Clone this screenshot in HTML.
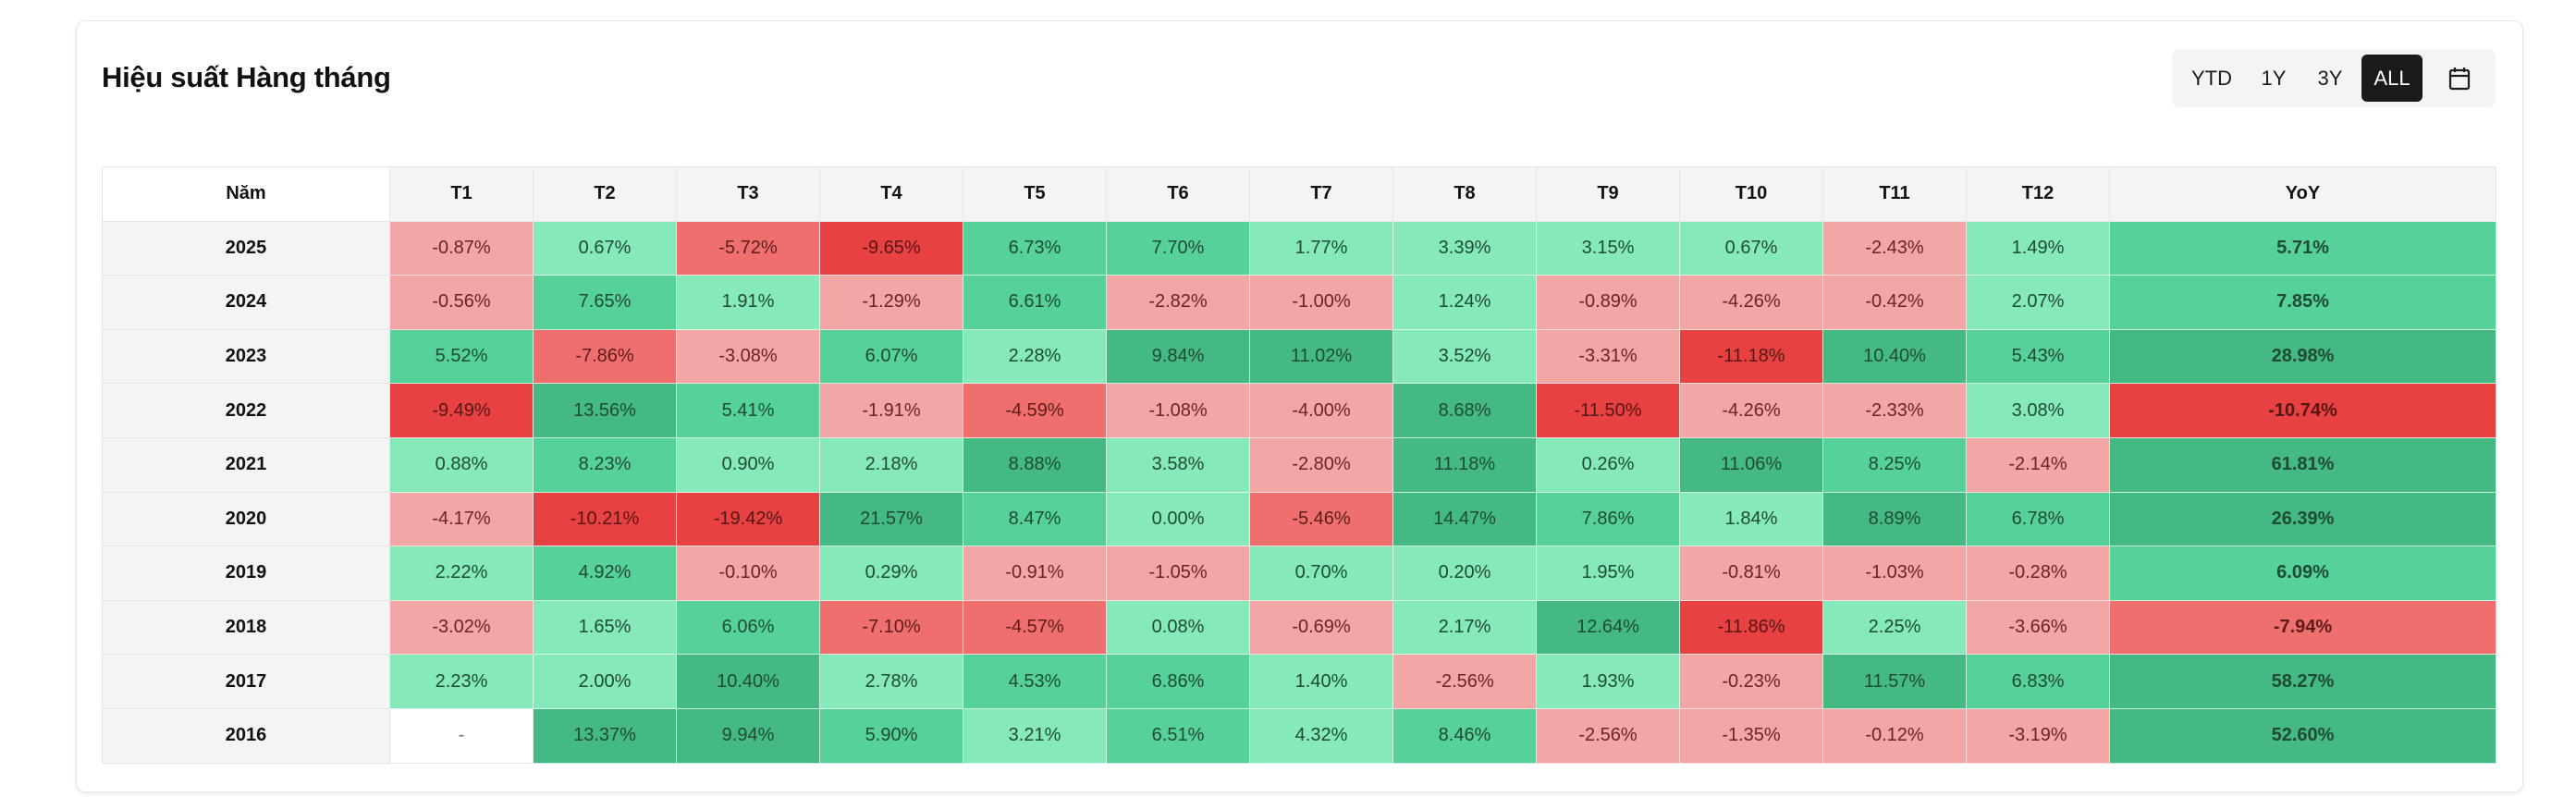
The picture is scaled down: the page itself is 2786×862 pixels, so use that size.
<!DOCTYPE html>
<html><head><meta charset="utf-8">
<style>
html,body{margin:0;padding:0;background:#fff;width:2786px;height:862px;overflow:hidden;font-family:"Liberation Sans","Noto Sans CJK SC",sans-serif;}
.card{position:absolute;left:82px;top:22px;width:2645px;height:833px;border:1px solid #e6e6e6;border-radius:10px;box-shadow:0 2px 4px rgba(0,0,0,0.08);background:#fff;}
.title{position:absolute;left:110px;top:66px;font-size:31px;font-weight:bold;color:#111;letter-spacing:-0.3px;}
.seg{position:absolute;left:2349px;top:53px;width:350px;height:63px;background:#f4f4f4;border-radius:8px;}
.seg span{position:absolute;top:0;height:63px;line-height:63px;font-size:22px;color:#1a1a1a;transform:translateX(-50%);}
.seg .all{background:#1a1a1a;color:#fff;top:6px;height:51px;line-height:51px;width:66px;text-align:center;border-radius:6px;}
table{position:absolute;left:110px;top:180px;border-collapse:collapse;table-layout:fixed;width:2589px;}
td,th{height:57.6px;padding:0;text-align:center;font-size:20px;border:1px solid #e6e6e6;color:#1e4a36;}
th{font-weight:bold;color:#111;background:#f4f4f4;}
th.n{background:#fff;}
td.y{background:#f4f4f4;font-weight:bold;color:#111;}
td.yo{font-weight:bold;}
.a{background:#86e9b9;border-color:#d9f5e7;}
.b{background:#55d199;border-color:#c9eedc;}
.c{background:#44b983;border-color:#c9eedc;}
.r1{background:#f3a6a6;color:#6b2424;border-color:#f8dcdc;}
.r2{background:#ef6f6e;color:#5e1b1b;border-color:#f8dcdc;}
.r3{background:#e84141;color:#561616;border-color:#f8dcdc;}
.w{background:#fff;color:#777;}
</style></head><body>
<div class="card"></div>
<div class="title">Hiệu suất Hàng tháng</div>
<div class="seg">
<span style="left:43px">YTD</span>
<span style="left:110px">1Y</span>
<span style="left:171px">3Y</span>
<span class="all" style="left:238px">ALL</span>
<span style="left:311px;top:19px;height:26px;line-height:26px">
<svg width="24" height="26" viewBox="0 0 24 26"><rect x="2" y="4" width="20" height="20" rx="2" fill="none" stroke="#1a1a1a" stroke-width="2.2"/><line x1="2" y1="10" x2="22" y2="10" stroke="#1a1a1a" stroke-width="2.2"/><line x1="7" y1="1" x2="7" y2="6" stroke="#1a1a1a" stroke-width="2.2"/><line x1="17" y1="1" x2="17" y2="6" stroke="#1a1a1a" stroke-width="2.2"/></svg></span>
</div>
<table>
<colgroup><col style="width:311px"><col style="width:155px"><col style="width:155px"><col style="width:155px"><col style="width:155px"><col style="width:155px"><col style="width:155px"><col style="width:155px"><col style="width:155px"><col style="width:155px"><col style="width:155px"><col style="width:155px"><col style="width:155px"><col style="width:418px"></colgroup>
<tr><th class="n">Năm</th><th>T1</th><th>T2</th><th>T3</th><th>T4</th><th>T5</th><th>T6</th><th>T7</th><th>T8</th><th>T9</th><th>T10</th><th>T11</th><th>T12</th><th>YoY</th></tr>
<tr><td class="y">2025</td><td class="r1">-0.87%</td><td class="a">0.67%</td><td class="r2">-5.72%</td><td class="r3">-9.65%</td><td class="b">6.73%</td><td class="b">7.70%</td><td class="a">1.77%</td><td class="a">3.39%</td><td class="a">3.15%</td><td class="a">0.67%</td><td class="r1">-2.43%</td><td class="a">1.49%</td><td class="b yo">5.71%</td></tr>
<tr><td class="y">2024</td><td class="r1">-0.56%</td><td class="b">7.65%</td><td class="a">1.91%</td><td class="r1">-1.29%</td><td class="b">6.61%</td><td class="r1">-2.82%</td><td class="r1">-1.00%</td><td class="a">1.24%</td><td class="r1">-0.89%</td><td class="r1">-4.26%</td><td class="r1">-0.42%</td><td class="a">2.07%</td><td class="b yo">7.85%</td></tr>
<tr><td class="y">2023</td><td class="b">5.52%</td><td class="r2">-7.86%</td><td class="r1">-3.08%</td><td class="b">6.07%</td><td class="a">2.28%</td><td class="c">9.84%</td><td class="c">11.02%</td><td class="a">3.52%</td><td class="r1">-3.31%</td><td class="r3">-11.18%</td><td class="c">10.40%</td><td class="b">5.43%</td><td class="c yo">28.98%</td></tr>
<tr><td class="y">2022</td><td class="r3">-9.49%</td><td class="c">13.56%</td><td class="b">5.41%</td><td class="r1">-1.91%</td><td class="r2">-4.59%</td><td class="r1">-1.08%</td><td class="r1">-4.00%</td><td class="c">8.68%</td><td class="r3">-11.50%</td><td class="r1">-4.26%</td><td class="r1">-2.33%</td><td class="a">3.08%</td><td class="r3 yo">-10.74%</td></tr>
<tr><td class="y">2021</td><td class="a">0.88%</td><td class="b">8.23%</td><td class="a">0.90%</td><td class="a">2.18%</td><td class="c">8.88%</td><td class="a">3.58%</td><td class="r1">-2.80%</td><td class="c">11.18%</td><td class="a">0.26%</td><td class="c">11.06%</td><td class="b">8.25%</td><td class="r1">-2.14%</td><td class="c yo">61.81%</td></tr>
<tr><td class="y">2020</td><td class="r1">-4.17%</td><td class="r3">-10.21%</td><td class="r3">-19.42%</td><td class="c">21.57%</td><td class="b">8.47%</td><td class="a">0.00%</td><td class="r2">-5.46%</td><td class="c">14.47%</td><td class="b">7.86%</td><td class="a">1.84%</td><td class="c">8.89%</td><td class="b">6.78%</td><td class="c yo">26.39%</td></tr>
<tr><td class="y">2019</td><td class="a">2.22%</td><td class="b">4.92%</td><td class="r1">-0.10%</td><td class="a">0.29%</td><td class="r1">-0.91%</td><td class="r1">-1.05%</td><td class="a">0.70%</td><td class="a">0.20%</td><td class="a">1.95%</td><td class="r1">-0.81%</td><td class="r1">-1.03%</td><td class="r1">-0.28%</td><td class="b yo">6.09%</td></tr>
<tr><td class="y">2018</td><td class="r1">-3.02%</td><td class="a">1.65%</td><td class="b">6.06%</td><td class="r2">-7.10%</td><td class="r2">-4.57%</td><td class="a">0.08%</td><td class="r1">-0.69%</td><td class="a">2.17%</td><td class="c">12.64%</td><td class="r3">-11.86%</td><td class="a">2.25%</td><td class="r1">-3.66%</td><td class="r2 yo">-7.94%</td></tr>
<tr><td class="y">2017</td><td class="a">2.23%</td><td class="a">2.00%</td><td class="c">10.40%</td><td class="a">2.78%</td><td class="b">4.53%</td><td class="b">6.86%</td><td class="a">1.40%</td><td class="r1">-2.56%</td><td class="a">1.93%</td><td class="r1">-0.23%</td><td class="c">11.57%</td><td class="b">6.83%</td><td class="c yo">58.27%</td></tr>
<tr><td class="y">2016</td><td class="w">-</td><td class="c">13.37%</td><td class="c">9.94%</td><td class="b">5.90%</td><td class="a">3.21%</td><td class="b">6.51%</td><td class="a">4.32%</td><td class="b">8.46%</td><td class="r1">-2.56%</td><td class="r1">-1.35%</td><td class="r1">-0.12%</td><td class="r1">-3.19%</td><td class="c yo">52.60%</td></tr>
</table>
</body></html>
